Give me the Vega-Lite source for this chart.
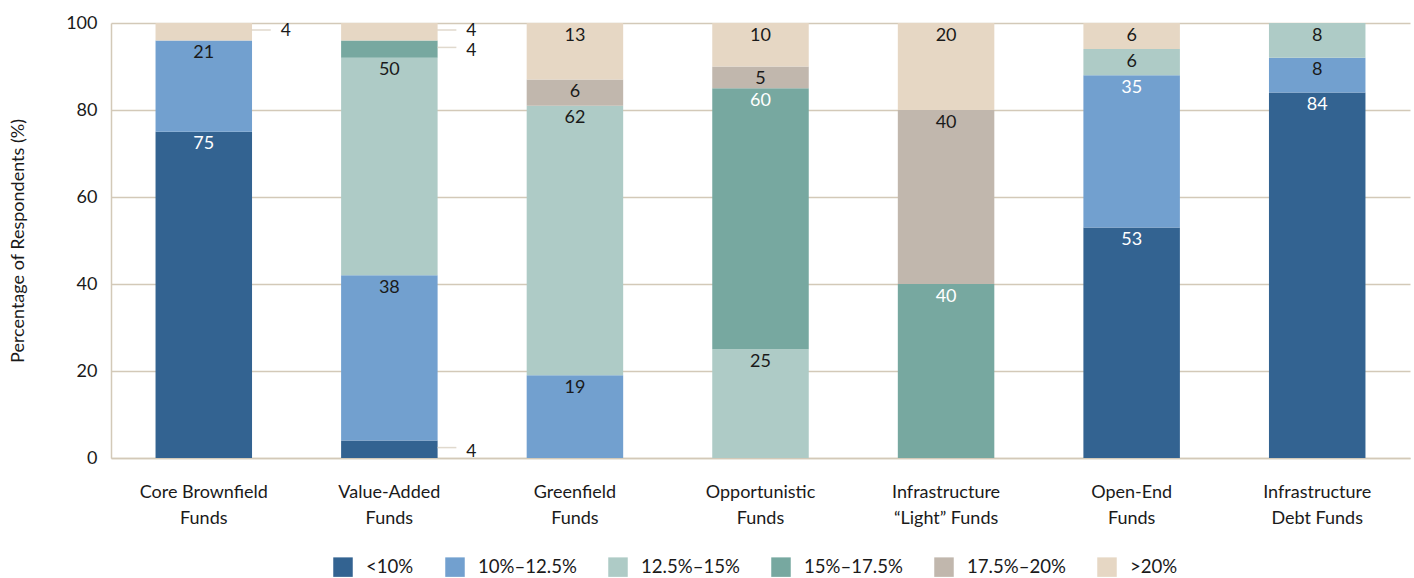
{
  "$schema": "https://vega.github.io/schema/vega-lite/v6.json",
  "width": 1299,
  "height": 435,
  "autosize": "none",
  "padding": {"left": 111, "top": 23, "right": 4, "bottom": 120},
  "background": "white",
  "config": {
    "font": "Lato",
    "view": {"stroke": null},
    "axis": {"labelColor": "#1a1a1a", "titleColor": "#1a1a1a", "labelFont": "Lato", "titleFont": "Lato"},
    "legend": {"labelColor": "#1a1a1a", "labelFont": "Lato"}
  },
  "data": {
    "values": [
      {"cat": "Core Brownfield\nFunds", "series": "<10%", "k": 1, "value": 75},
      {"cat": "Core Brownfield\nFunds", "series": "10%–12.5%", "k": 2, "value": 21},
      {"cat": "Core Brownfield\nFunds", "series": ">20%", "k": 6, "value": 4},
      {"cat": "Value-Added\nFunds", "series": "<10%", "k": 1, "value": 4},
      {"cat": "Value-Added\nFunds", "series": "10%–12.5%", "k": 2, "value": 38},
      {"cat": "Value-Added\nFunds", "series": "12.5%–15%", "k": 3, "value": 50},
      {"cat": "Value-Added\nFunds", "series": "15%–17.5%", "k": 4, "value": 4},
      {"cat": "Value-Added\nFunds", "series": ">20%", "k": 6, "value": 4},
      {"cat": "Greenfield\nFunds", "series": "10%–12.5%", "k": 2, "value": 19},
      {"cat": "Greenfield\nFunds", "series": "12.5%–15%", "k": 3, "value": 62},
      {"cat": "Greenfield\nFunds", "series": "17.5%–20%", "k": 5, "value": 6},
      {"cat": "Greenfield\nFunds", "series": ">20%", "k": 6, "value": 13},
      {"cat": "Opportunistic\nFunds", "series": "12.5%–15%", "k": 3, "value": 25},
      {"cat": "Opportunistic\nFunds", "series": "15%–17.5%", "k": 4, "value": 60},
      {"cat": "Opportunistic\nFunds", "series": "17.5%–20%", "k": 5, "value": 5},
      {"cat": "Opportunistic\nFunds", "series": ">20%", "k": 6, "value": 10},
      {"cat": "Infrastructure\n“Light” Funds", "series": "15%–17.5%", "k": 4, "value": 40},
      {"cat": "Infrastructure\n“Light” Funds", "series": "17.5%–20%", "k": 5, "value": 40},
      {"cat": "Infrastructure\n“Light” Funds", "series": ">20%", "k": 6, "value": 20},
      {"cat": "Open-End\nFunds", "series": "<10%", "k": 1, "value": 53},
      {"cat": "Open-End\nFunds", "series": "10%–12.5%", "k": 2, "value": 35},
      {"cat": "Open-End\nFunds", "series": "12.5%–15%", "k": 3, "value": 6},
      {"cat": "Open-End\nFunds", "series": ">20%", "k": 6, "value": 6},
      {"cat": "Infrastructure\nDebt Funds", "series": "<10%", "k": 1, "value": 84},
      {"cat": "Infrastructure\nDebt Funds", "series": "10%–12.5%", "k": 2, "value": 8},
      {"cat": "Infrastructure\nDebt Funds", "series": "12.5%–15%", "k": 3, "value": 8}
    ]
  },
  "transform": [
    {"stack": "value", "groupby": ["cat"], "sort": [{"field": "k", "order": "ascending"}], "as": ["v0", "v1"]}
  ],
  "encoding": {
    "x": {
      "field": "cat",
      "type": "nominal",
      "sort": null,
      "scale": {"paddingInner": 0.48, "paddingOuter": 0.24},
      "axis": {
        "title": null,
        "labelAngle": 0,
        "labelExpr": "split(datum.label, '\\n')",
        "labelFontSize": 18,
        "labelLineHeight": 26,
        "labelPadding": 25,
        "ticks": false,
        "domainColor": "#d3c9b8",
        "domainWidth": 1.5
      }
    }
  },
  "layer": [
    {
      "mark": {"type": "bar"},
      "encoding": {
        "y": {
          "field": "v1",
          "type": "quantitative",
          "scale": {"domain": [0, 100], "nice": false},
          "axis": {
            "title": "Percentage of Respondents (%)",
            "titleFontSize": 18,
            "titleFontWeight": "normal",
            "titleX": -93,
            "titleY": 217.5,
            "titleBaseline": "middle",
            "values": [0, 20, 40, 60, 80, 100],
            "labelFontSize": 18,
            "labelPadding": 14,
            "ticks": false,
            "grid": true,
            "gridColor": "#d3c9b8",
            "gridWidth": 1.5,
            "domain": true,
            "domainColor": "#d3c9b8",
            "domainWidth": 1.5
          }
        },
        "y2": {"field": "v0"},
        "color": {
          "field": "series",
          "type": "nominal",
          "scale": {
            "domain": ["<10%", "10%–12.5%", "12.5%–15%", "15%–17.5%", "17.5%–20%", ">20%"],
            "range": ["#336391", "#72a0cf", "#aecbc6", "#77a8a0", "#c1b7ad", "#e6d7c4"]
          },
          "legend": {
            "title": null,
            "orient": "none",
            "legendX": 222,
            "legendY": 534,
            "direction": "horizontal",
            "symbolType": "square",
            "symbolSize": 380,
            "symbolStrokeWidth": 0,
            "labelFontSize": 18.6,
            "labelOffset": 13,
            "columnPadding": 31
          }
        }
      }
    },
    {
      "transform": [{"filter": "datum.value >= 5"}],
      "mark": {"type": "text", "baseline": "middle", "dy": 12.5, "fontSize": 18},
      "encoding": {
        "y": {"field": "v1", "type": "quantitative"},
        "text": {"field": "value", "type": "quantitative"},
        "color": {
          "condition": {
            "test": "datum.series === '<10%' || datum.series === '15%–17.5%' || (datum.series === '10%–12.5%' && test(/Open-End/, datum.cat))",
            "value": "#ffffff"
          },
          "value": "#1a1a1a"
        }
      }
    },
    {
      "transform": [{"filter": "datum.value < 5"}],
      "mark": {"type": "tick", "orient": "horizontal", "size": 19, "thickness": 1.5, "xOffset": 57.5, "yOffset": 7, "color": "#d3c9b8"},
      "encoding": {
        "y": {"field": "v1", "type": "quantitative"}
      }
    },
    {
      "transform": [{"filter": "datum.value < 5 && datum.k === 6"}],
      "mark": {"type": "text", "baseline": "middle", "align": "left", "dx": 77, "dy": 8, "fontSize": 17.5, "color": "#1a1a1a"},
      "encoding": {
        "y": {"field": "v1", "type": "quantitative"},
        "text": {"field": "value", "type": "quantitative"}
      }
    },
    {
      "transform": [{"filter": "datum.value < 5 && datum.k !== 6"}],
      "mark": {"type": "text", "baseline": "middle", "align": "left", "dx": 77, "dy": 11, "fontSize": 17.5, "color": "#1a1a1a"},
      "encoding": {
        "y": {"field": "v1", "type": "quantitative"},
        "text": {"field": "value", "type": "quantitative"}
      }
    }
  ]
}
